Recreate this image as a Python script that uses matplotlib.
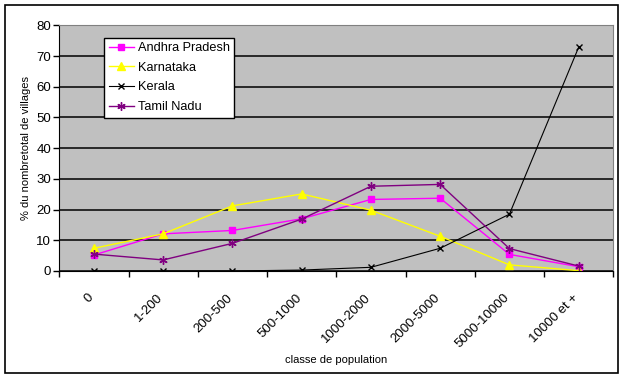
import matplotlib
matplotlib.use('Agg')
import matplotlib.pyplot as plt
import numpy as np
from matplotlib.patches import Rectangle

plt.rcParams['font.family'] = ['Liberation Sans', 'DejaVu Sans']

# Données : % du nombre total de villages par classe de population
classes = ['0', '1-200', '200-500', '500-1000', '1000-2000',
           '2000-5000', '5000-10000', '10000 et +']
andhra = [5.2, 12.1, 13.2, 17.0, 23.3, 23.7, 5.4, 1.4]
karnataka = [7.4, 12.1, 21.2, 25.1, 19.8, 11.3, 2.0, 0.1]
kerala = [0.0, 0.0, 0.0, 0.3, 1.2, 7.4, 18.5, 72.9]
tamil = [5.5, 3.6, 9.0, 16.9, 27.6, 28.2, 7.3, 1.6]

fig = plt.figure(figsize=(6.26, 3.79), dpi=100)
ax = fig.add_axes([0.0947, 0.285, 0.885, 0.648])

# cadre extérieur
fig.patches.append(Rectangle((5 / 626, 1 - 373 / 379), 613 / 626, 368 / 379,
                             transform=fig.transFigure, fill=False,
                             edgecolor='black', linewidth=1.2))

x = np.arange(len(classes))
ax.set_facecolor('#C0C0C0')
ax.plot(x, andhra, color='#FF00FF', marker='s', markersize=5, lw=1, label='Andhra Pradesh')
ax.plot(x, karnataka, color='#FFFF00', marker='^', markersize=6, lw=1, label='Karnataka')
ax.plot(x, kerala, color='black', marker='x', markersize=4, lw=0.8, label='Kerala')
ax.plot(x, tamil, color='#800080', marker=(6, 2, 0), markersize=6, lw=1,
        markeredgewidth=1, label='Tamil Nadu')

ax.set_xlim(-0.5, len(classes) - 0.5)
ax.set_ylim(0, 80)
ax.set_yticks(range(0, 81, 10))
ax.yaxis.grid(True, color='black', linewidth=1.1)
ax.set_axisbelow(True)

# étiquettes un peu décalées à gauche du centre, comme dans Excel
ax.set_xticks(x - 0.09)
ax.set_xticklabels(classes, rotation=45, ha='right', va='top',
                   fontsize=9.5, rotation_mode='anchor')
ax.set_xticks(np.arange(-0.5, len(classes)), minor=True)
ax.tick_params(axis='x', which='major', length=0, pad=15)
ax.tick_params(axis='x', which='minor', length=4, width=1, direction='out')
ax.tick_params(axis='y', length=4, width=1, labelsize=9.5, pad=2)

for s in ['top', 'right']:
    ax.spines[s].set_color('#808080')
for s in ['left', 'bottom']:
    ax.spines[s].set_color('black')

ax.set_xlabel('classe de population', fontsize=8, labelpad=3)
ax.set_ylabel('% du nombretotal de villages', fontsize=8, labelpad=4)

leg = ax.legend(loc='upper left', bbox_to_anchor=(0.081, 0.95), fontsize=9.2,
                frameon=True, fancybox=False, edgecolor='black', framealpha=1,
                borderpad=0.35, labelspacing=0.6, handlelength=2.0,
                handletextpad=0.3, borderaxespad=0)
leg.get_frame().set_linewidth(1)

plt.savefig('out.png', dpi=100)
